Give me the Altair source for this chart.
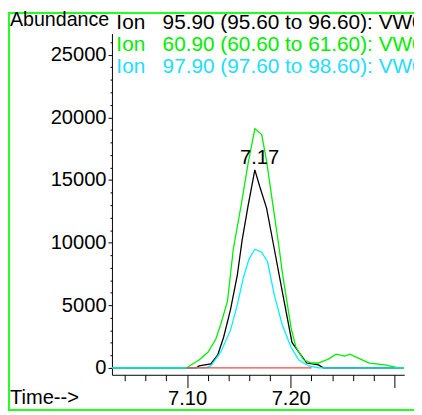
import altair as alt
import pandas as pd

# ---- data (time in min, abundance) ----
green_t = [7.0276, 7.0993, 7.1116, 7.1201, 7.1276, 7.1324, 7.1390, 7.1446, 7.1522, 7.1588,
           7.1654, 7.1720, 7.1767, 7.1824, 7.1890, 7.1918, 7.2003, 7.2050, 7.2126, 7.2201,
           7.2267, 7.2362, 7.2437, 7.2522, 7.2569, 7.2673, 7.2758, 7.2909, 7.3041, 7.3090]
green_v = [0, 0, 626, 1253, 2271, 3445, 5324, 9474, 12998, 16286,
           19105, 18635, 16521, 13233, 9474, 7673, 3210, 1644, 626, 392,
           392, 705, 1096, 940, 1096, 705, 392, 235, 0, 0]

black_t = [7.0276, 7.1088, 7.1116, 7.1229, 7.1295, 7.1352, 7.1418, 7.1484, 7.1531, 7.1588,
           7.1654, 7.1701, 7.1767, 7.1842, 7.1918, 7.2012, 7.2078, 7.2154, 7.2267, 7.2314, 7.3090]
black_v = [0, 0, 157, 313, 1018, 2427, 4620, 7360, 10179, 12920,
           15817, 14485, 12763, 9474, 6108, 2036, 1253, 392, 235, 0, 0]

cyan_t = [7.0276, 7.1182, 7.1229, 7.1324, 7.1418, 7.1484, 7.1541, 7.1597, 7.1654, 7.1720,
          7.1777, 7.1842, 7.1918, 7.2003, 7.2078, 7.2173, 7.2267, 7.3090]
cyan_v = [0, 0, 157, 1253, 2975, 5011, 7125, 8691, 9474, 9239,
          8456, 5794, 3445, 1644, 626, 157, 0, 0]

base_t = [7.0993, 7.2201]
base_v = [0, 0]

peak_label = ["7.17"]
peak_t = [7.17]
peak_v = [15817]

header_text = ["Ion\u00a0\u00a0 95.90 (95.60 to 96.60): VW0101.D",
               "Ion\u00a0\u00a0 60.90 (60.60 to 61.60): VW0101.D",
               "Ion\u00a0\u00a0 97.90 (97.60 to 98.60): VW0101.D"]
header_color = ["#000000", "#00ee00", "#22ddff"]
header_y = [-5, 17.5, 40]

x_major = [7.10, 7.20, 7.30]
x_minor = [7.04, 7.06, 7.08, 7.12, 7.14, 7.16, 7.18, 7.22, 7.24, 7.26, 7.28]
y_major = [0, 5000, 10000, 15000, 20000, 25000]
y_minor = [1000, 2000, 3000, 4000, 6000, 7000, 8000, 9000, 11000, 12000, 13000, 14000,
           16000, 17000, 18000, 19000, 21000, 22000, 23000, 24000, 26000]

X_DOMAIN = [7.0276, 7.3094]
Y_DOMAIN = [-548, 26699]

FONT = "Liberation Sans"
FS = 20.5
HFS = 21.2
GREEN = "#00ee00"
FRAME = "#22ff22"

xs = alt.Scale(domain=X_DOMAIN, nice=False, zero=False)
ys = alt.Scale(domain=Y_DOMAIN, nice=False, zero=False)

x_axis_major = alt.Axis(orient="bottom", values=x_major, tickSize=13, tickColor="black",
                        domainColor="black", labelColor="black", labelFont=FONT,
                        labelFontSize=FS, labelPadding=1, grid=False, title=None,
                        labelExpr="datum.value > 7.25 ? '' : format(datum.value, '.2f')")
x_axis_minor = alt.Axis(orient="bottom", values=x_minor, tickSize=6, tickColor="black",
                        domain=False, labels=False, grid=False, title=None)
y_axis_major = alt.Axis(orient="left", values=y_major, tickSize=4, tickColor="black",
                        domainColor="black", labelColor="black", labelFont=FONT,
                        labelFontSize=FS, labelPadding=2, format="d", grid=False, title=None)
y_axis_minor = alt.Axis(orient="left", values=y_minor, tickSize=2, tickColor="black",
                        domain=False, labels=False, grid=False, title=None)


def series(t, v, color, xaxis=None, yaxis=None):
    df = pd.DataFrame({"t": t, "v": v})
    return alt.Chart(df).mark_line(color=color, strokeWidth=1.3).encode(
        x=alt.X("t:Q", scale=xs, axis=xaxis),
        y=alt.Y("v:Q", scale=ys, axis=yaxis),
    )


black_line = series(black_t, black_v, "#000000", x_axis_major, y_axis_major)
green_line = series(green_t, green_v, GREEN)
cyan_line = series(cyan_t, cyan_v, "#00f0ff")
red_line = series(base_t, base_v, "#f04848", x_axis_minor, y_axis_minor)

peak = alt.Chart(pd.DataFrame({"t": peak_t, "v": peak_v, "lab": peak_label})).mark_text(
    font=FONT, fontSize=FS, color="black", baseline="alphabetic", align="center", dy=-6
).encode(x=alt.X("t:Q", scale=xs, axis=None), y=alt.Y("v:Q", scale=ys, axis=None), text="lab:N")


def text_at(txt, x, y, color="black", size=FS):
    return alt.Chart(pd.DataFrame({"txt": [txt]})).mark_text(
        font=FONT, fontSize=size, align="left", baseline="alphabetic", color=color
    ).encode(x=alt.value(x), y=alt.value(y), text="txt:N")


headers = [text_at(t, 4.5, y, c, HFS) for t, y, c in zip(header_text, header_y, header_color)]
abundance = text_at("Abundance", -104, -8, size=20)
time_lbl = text_at("Time-->", -104, 378)

frame_df = pd.DataFrame({"k": [0]})
frame_left = alt.Chart(frame_df).mark_rule(color=FRAME, strokeWidth=2).encode(
    x=alt.value(-105), y=alt.value(-22), y2=alt.value(385))
frame_top = alt.Chart(frame_df).mark_rule(color=FRAME, strokeWidth=2).encode(
    x=alt.value(-106), x2=alt.value(308), y=alt.value(-21))
frame_bottom = alt.Chart(frame_df).mark_rule(color=FRAME, strokeWidth=2).encode(
    x=alt.value(-106), x2=alt.value(308), y=alt.value(384))

chart = alt.layer(
    frame_left, frame_top, frame_bottom,
    black_line, green_line, cyan_line, red_line,
    peak, *headers, abundance, time_lbl,
).resolve_axis(x="independent", y="independent").properties(
    width=298, height=348,
    padding={"left": 106, "top": 22, "right": 10, "bottom": 37},
    autosize=alt.AutoSizeParams(type="none"),
).configure_view(stroke=None)

chart.save("out.html", embed_options={"renderer": "svg", "actions": False})
